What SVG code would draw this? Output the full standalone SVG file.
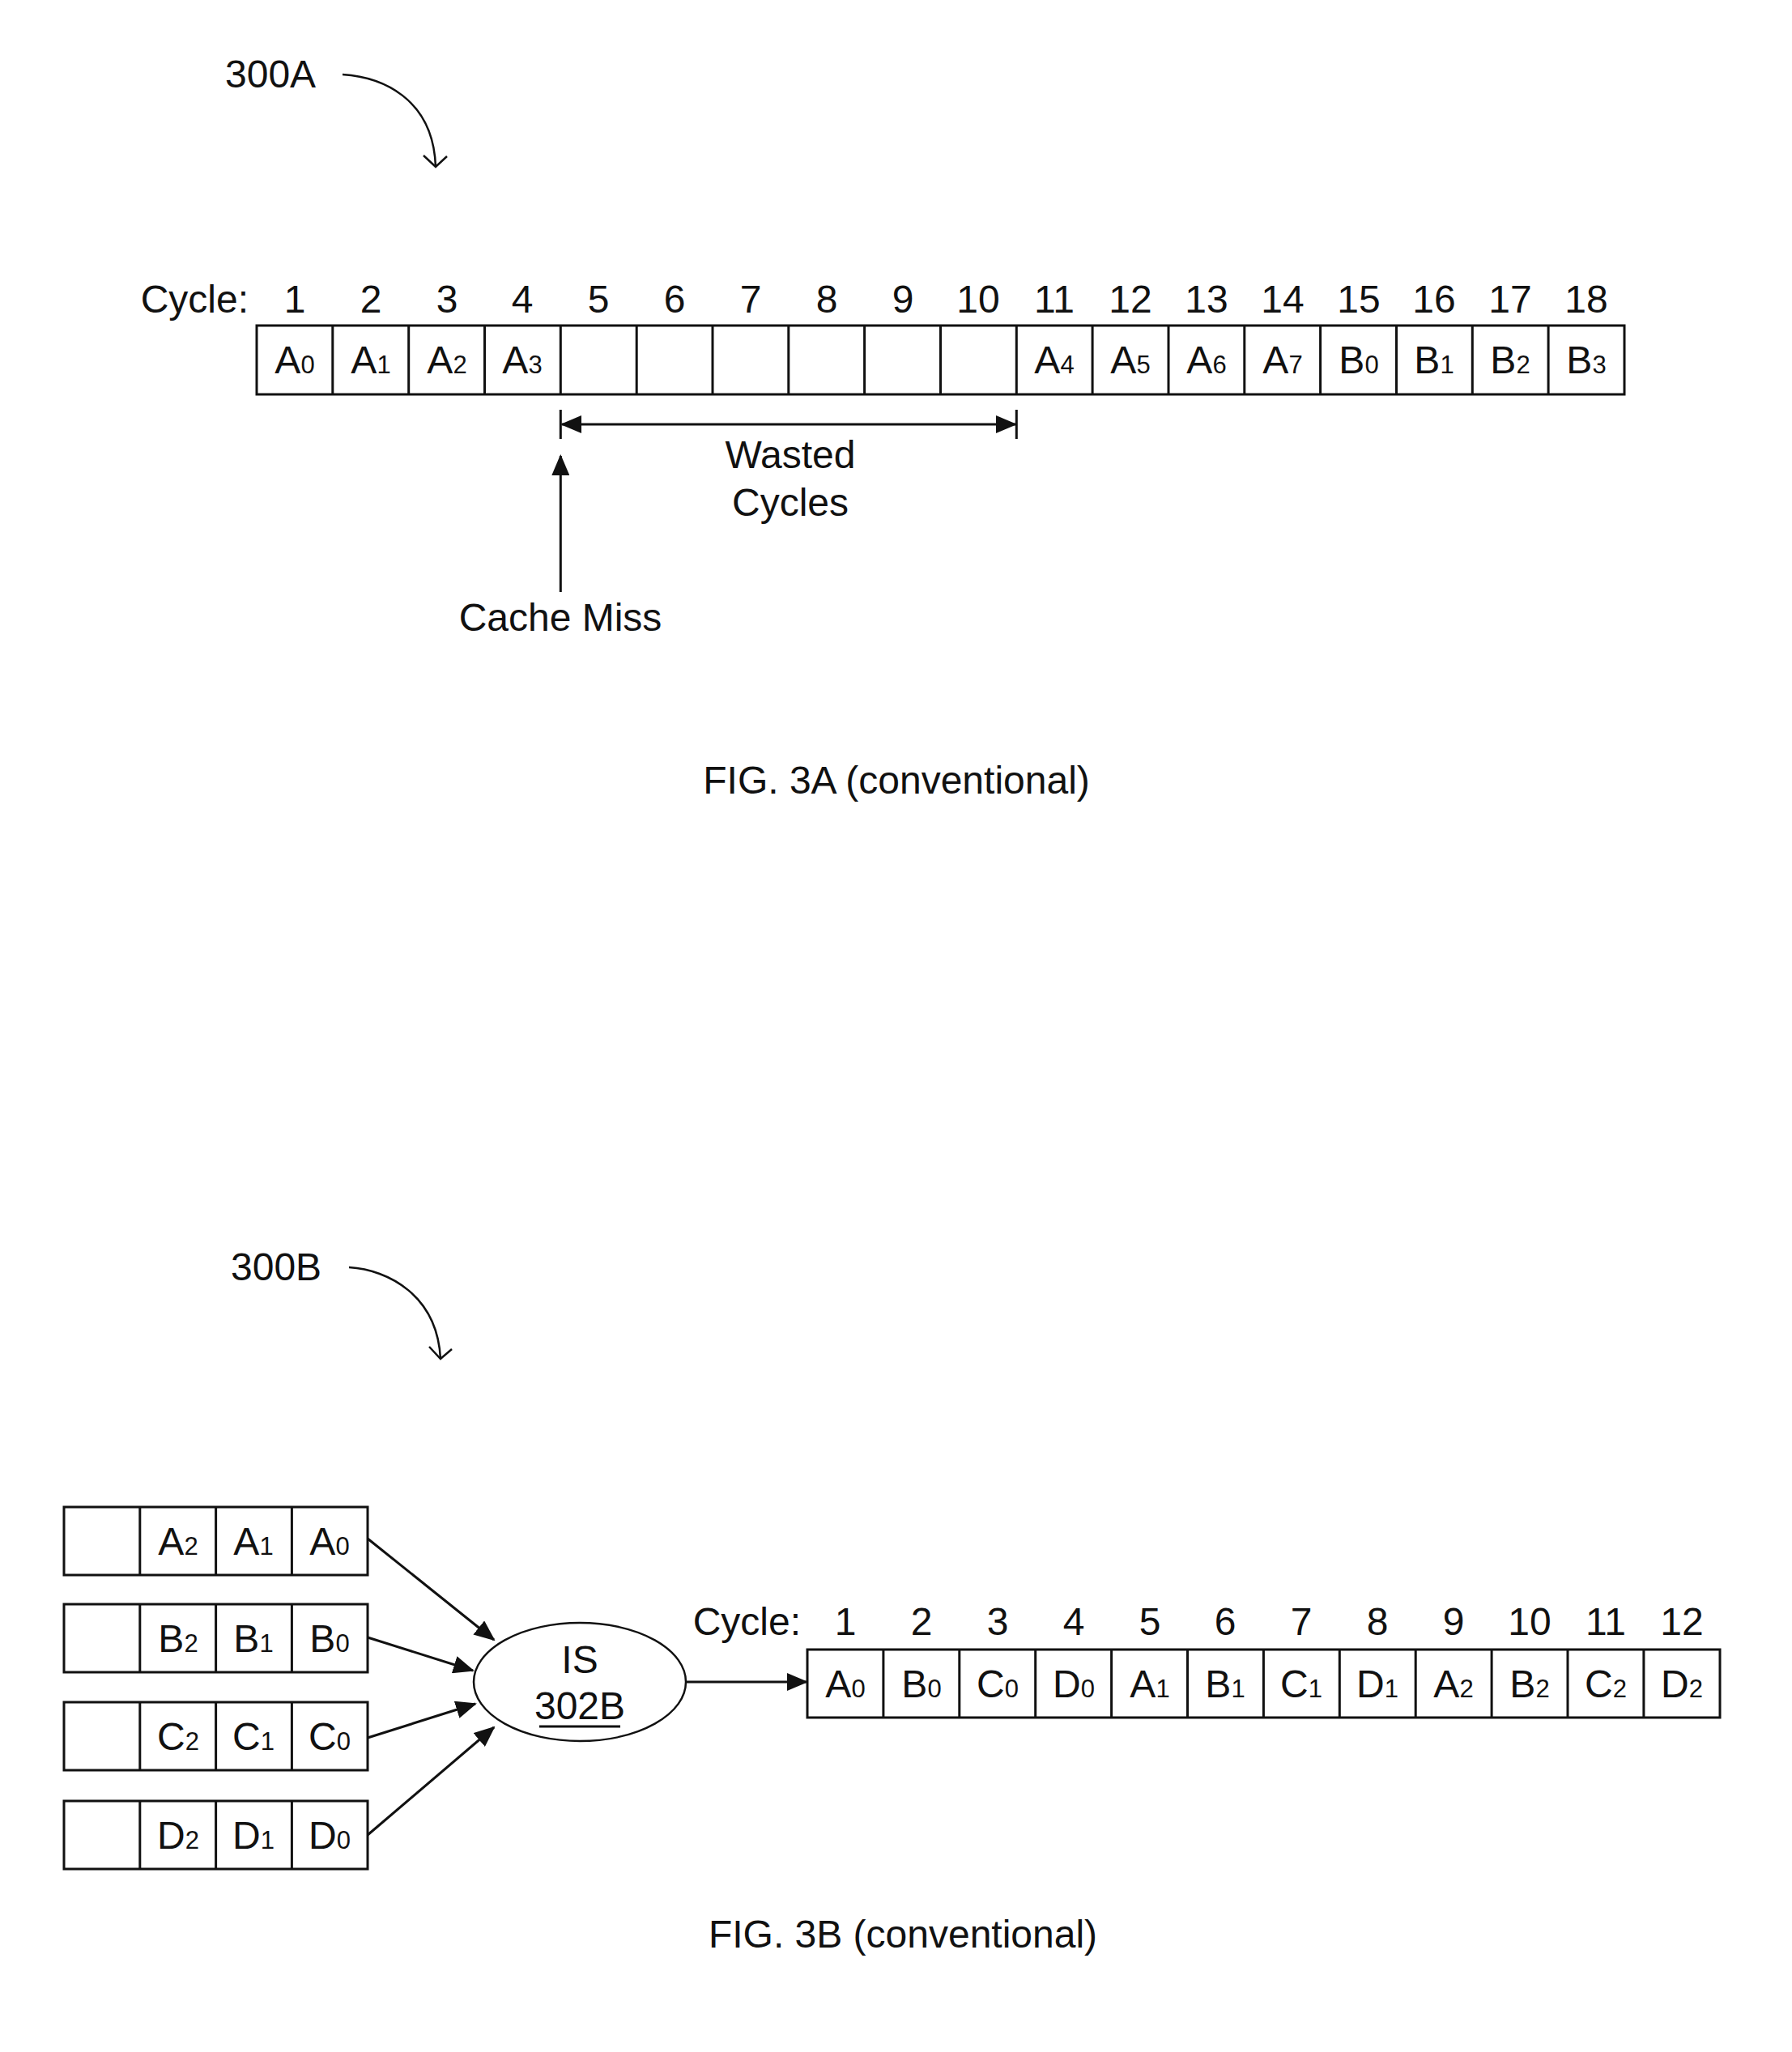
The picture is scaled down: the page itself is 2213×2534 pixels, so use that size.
<svg xmlns="http://www.w3.org/2000/svg" width="2213" height="2534" viewBox="0 0 2213 2534">
<style>
text{font-family:"Liberation Sans",Arial,sans-serif;font-size:48px;fill:#111}
.m{text-anchor:middle}
.e{text-anchor:end}
.s{font-size:31px}
.box{fill:#fff;stroke:#111;stroke-width:3}
.div{stroke:#111;stroke-width:3}
.ln{stroke:#111;stroke-width:3;fill:none}
.hook{stroke:#111;stroke-width:2.5;fill:none}
</style>
<defs>
<marker id="ah" markerUnits="userSpaceOnUse" markerWidth="26" markerHeight="22" refX="24" refY="11" orient="auto-start-reverse" viewBox="0 0 26 22">
<path d="M0 0 L26 11 L0 22 Z" fill="#111"/>
</marker>
</defs>

<g id="label-300A">
<text x="278" y="108">300A</text>
<path class="hook" d="M423 92 C470 95 535 120 538 206"/>
<path class="hook" d="M523 192 L538 206 L552 193"/>
</g>

<g id="timeline-3A">
<text x="307" y="386" class="e">Cycle:</text>
<g class="m">
<text x="364" y="386">1</text><text x="458" y="386">2</text><text x="552" y="386">3</text><text x="645" y="386">4</text><text x="739" y="386">5</text><text x="833" y="386">6</text><text x="927" y="386">7</text><text x="1021" y="386">8</text><text x="1115" y="386">9</text><text x="1208" y="386">10</text><text x="1302" y="386">11</text><text x="1396" y="386">12</text><text x="1490" y="386">13</text><text x="1584" y="386">14</text><text x="1678" y="386">15</text><text x="1771" y="386">16</text><text x="1865" y="386">17</text><text x="1959" y="386">18</text>
</g>
<rect class="box" x="317" y="402" width="1689" height="85"/>
<path class="div" d="M410.8 402V487M504.7 402V487M598.5 402V487M692.3 402V487M786.2 402V487M880 402V487M973.8 402V487M1067.6 402V487M1161.5 402V487M1255.3 402V487M1349.1 402V487M1443 402V487M1536.8 402V487M1630.6 402V487M1724.5 402V487M1818.3 402V487M1912.1 402V487"/>
<g class="m">
<text x="364" y="461">A<tspan class="s">0</tspan></text>
<text x="458" y="461">A<tspan class="s">1</tspan></text>
<text x="552" y="461">A<tspan class="s">2</tspan></text>
<text x="645" y="461">A<tspan class="s">3</tspan></text>
<text x="1302" y="461">A<tspan class="s">4</tspan></text>
<text x="1396" y="461">A<tspan class="s">5</tspan></text>
<text x="1490" y="461">A<tspan class="s">6</tspan></text>
<text x="1584" y="461">A<tspan class="s">7</tspan></text>
<text x="1678" y="461">B<tspan class="s">0</tspan></text>
<text x="1771" y="461">B<tspan class="s">1</tspan></text>
<text x="1865" y="461">B<tspan class="s">2</tspan></text>
<text x="1959" y="461">B<tspan class="s">3</tspan></text>
</g>
</g>

<g id="wasted-cycles">
<text x="976" y="578" class="m">Wasted</text>
<text x="976" y="637" class="m">Cycles</text>
</g>
<g id="cache-miss">
<text x="692" y="779" class="m">Cache Miss</text>
</g>

<g id="connectors-3A">
<path class="ln" d="M692.3 506V542M1255.3 506V542"/>
<path class="ln" d="M694 524H1254" marker-start="url(#ah)" marker-end="url(#ah)"/>
<path class="ln" d="M692.3 731V563" marker-end="url(#ah)"/>
</g>

<text x="1107" y="980" class="m">FIG. 3A (conventional)</text>

<g id="label-300B">
<text x="285" y="1581">300B</text>
<path class="hook" d="M431 1565 C480 1568 540 1600 544 1678"/>
<path class="hook" d="M530 1663 L544 1678 L558 1666"/>
</g>

<g id="queue-A">
<rect class="box" x="79" y="1861" width="375" height="84"/>
<path class="div" d="M172.8 1861V1945M266.6 1861V1945M360.4 1861V1945"/>
<g class="m"><text x="220" y="1920">A<tspan class="s">2</tspan></text><text x="313" y="1920">A<tspan class="s">1</tspan></text><text x="407" y="1920">A<tspan class="s">0</tspan></text></g>
</g>
<g id="queue-B">
<rect class="box" x="79" y="1981" width="375" height="84"/>
<path class="div" d="M172.8 1981V2065M266.6 1981V2065M360.4 1981V2065"/>
<g class="m"><text x="220" y="2040">B<tspan class="s">2</tspan></text><text x="313" y="2040">B<tspan class="s">1</tspan></text><text x="407" y="2040">B<tspan class="s">0</tspan></text></g>
</g>
<g id="queue-C">
<rect class="box" x="79" y="2102" width="375" height="84"/>
<path class="div" d="M172.8 2102V2186M266.6 2102V2186M360.4 2102V2186"/>
<g class="m"><text x="220" y="2161">C<tspan class="s">2</tspan></text><text x="313" y="2161">C<tspan class="s">1</tspan></text><text x="407" y="2161">C<tspan class="s">0</tspan></text></g>
</g>
<g id="queue-D">
<rect class="box" x="79" y="2224" width="375" height="84"/>
<path class="div" d="M172.8 2224V2308M266.6 2224V2308M360.4 2224V2308"/>
<g class="m"><text x="220" y="2283">D<tspan class="s">2</tspan></text><text x="313" y="2283">D<tspan class="s">1</tspan></text><text x="407" y="2283">D<tspan class="s">0</tspan></text></g>
</g>

<g id="IS-302B">
<ellipse cx="716" cy="2077" rx="131" ry="73" fill="#fff" stroke="#111" stroke-width="2.5"/>
<text x="716" y="2066" class="m">IS</text>
<text x="716" y="2123" class="m">302B</text>
<path class="ln" d="M666 2132H766"/>
</g>

<g id="timeline-3B">
<text x="989" y="2019" class="e">Cycle:</text>
<g class="m">
<text x="1044" y="2019">1</text><text x="1138" y="2019">2</text><text x="1232" y="2019">3</text><text x="1326" y="2019">4</text><text x="1420" y="2019">5</text><text x="1513" y="2019">6</text><text x="1607" y="2019">7</text><text x="1701" y="2019">8</text><text x="1795" y="2019">9</text><text x="1889" y="2019">10</text><text x="1983" y="2019">11</text><text x="2077" y="2019">12</text>
</g>
<rect class="box" x="997" y="2037" width="1127" height="84"/>
<path class="div" d="M1090.9 2037V2121M1184.8 2037V2121M1278.7 2037V2121M1372.6 2037V2121M1466.5 2037V2121M1560.4 2037V2121M1654.3 2037V2121M1748.2 2037V2121M1842.1 2037V2121M1936 2037V2121M2029.9 2037V2121"/>
<g class="m">
<text x="1044" y="2096">A<tspan class="s">0</tspan></text>
<text x="1138" y="2096">B<tspan class="s">0</tspan></text>
<text x="1232" y="2096">C<tspan class="s">0</tspan></text>
<text x="1326" y="2096">D<tspan class="s">0</tspan></text>
<text x="1420" y="2096">A<tspan class="s">1</tspan></text>
<text x="1513" y="2096">B<tspan class="s">1</tspan></text>
<text x="1607" y="2096">C<tspan class="s">1</tspan></text>
<text x="1701" y="2096">D<tspan class="s">1</tspan></text>
<text x="1795" y="2096">A<tspan class="s">2</tspan></text>
<text x="1889" y="2096">B<tspan class="s">2</tspan></text>
<text x="1983" y="2096">C<tspan class="s">2</tspan></text>
<text x="2077" y="2096">D<tspan class="s">2</tspan></text>
</g>
</g>

<g id="connectors-3B">
<path class="ln" d="M454 1900L610 2025" marker-end="url(#ah)"/>
<path class="ln" d="M454 2022L584 2063" marker-end="url(#ah)"/>
<path class="ln" d="M454 2146L587 2104" marker-end="url(#ah)"/>
<path class="ln" d="M454 2266L610 2133" marker-end="url(#ah)"/>
<path class="ln" d="M847 2077H996" marker-end="url(#ah)"/>
</g>

<text x="1115" y="2405" class="m">FIG. 3B (conventional)</text>
</svg>
